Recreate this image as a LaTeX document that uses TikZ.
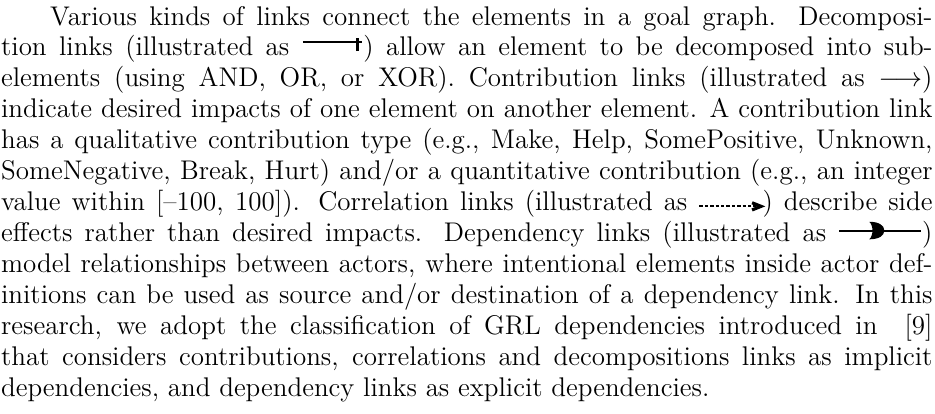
\documentclass[tikz,border=0pt]{standalone}
\usetikzlibrary{arrows.meta}
\tikzset{
  para/.style={inner sep=0pt, outer sep=0pt, anchor=north west, text width=414pt,
    align=justify, font=\fontsize{12pt}{13.75pt}\selectfont},
  linkline/.style={line width=0.9pt},
}
\newcommand{\declink}{\tikz[baseline=0pt]{%
  \draw[linkline] (0,6pt) -- (26.5pt,6pt);
  \draw[line width=1.4pt] (24.4pt,2.2pt) -- (24.4pt,8.2pt);}}
\newcommand{\corlink}{\tikz[baseline=0pt]{%
  \draw[line width=0.85pt, dash pattern=on 1.5pt off 0.9pt] (0,1.9pt) -- (25pt,1.9pt);
  \draw[line width=1.4pt, line join=miter] (23.4pt,0.3pt) -- (27.4pt,1.9pt) -- (23.4pt,3.5pt);}}
\newcommand{\deplink}{\tikz[baseline=0pt]{%
  \draw[linkline] (0,4.9pt) -- (36.4pt,4.9pt);
  \fill (13.3pt,8.8pt) .. controls (17.6pt,8.8pt) and (20pt,7.2pt) .. (20pt,4.9pt)
     .. controls (20pt,2.6pt) and (17.6pt,1pt) .. (13.3pt,1pt)
     .. controls (15.2pt,2.5pt) and (15.2pt,7.3pt) .. cycle;}}
\begin{document}
\begin{tikzpicture}
\useasboundingbox (0,0) rectangle (415.6pt,-184pt);
\node[para] (text) at (0.5pt,-1.5pt) {\strut\hspace*{21.8pt}Various kinds of links connect the elements in a goal graph. Decomposi-\linebreak
tion links (illustrated as \declink) allow an element to be decomposed into sub-\linebreak
elements (using AND, OR, or XOR). Contribution links (illustrated as $\longrightarrow$)\linebreak
indicate desired impacts of one element on another element. A contribution link\linebreak
has a qualitative contribution type (e.g., Make, Help, SomePositive, Unknown,\linebreak
SomeNegative, Break, Hurt) and/or a quantitative contribution (e.g., an integer\linebreak
value within [--100, 100]). Correlation links (illustrated as \corlink) describe side\linebreak
effects rather than desired impacts. Dependency links (illustrated as \deplink)\linebreak
model relationships between actors, where intentional elements inside actor def-\linebreak
initions can be used as source and/or destination of a dependency link. In this\linebreak
research, we adopt the classification of GRL dependencies introduced in \ [9]\linebreak
that considers contributions, correlations and decompositions links as implicit\linebreak
dependencies, and dependency links as explicit dependencies.\par};
\end{tikzpicture}
\end{document}
